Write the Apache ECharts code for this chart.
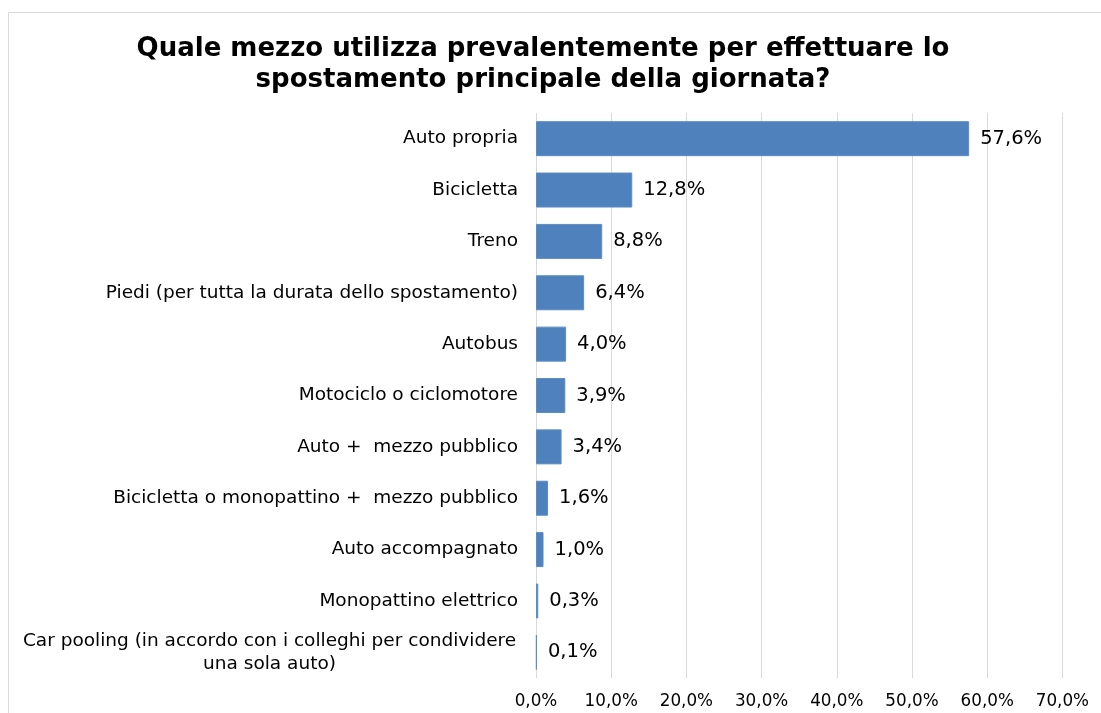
<!DOCTYPE html>
<html>
<head>
<meta charset="utf-8">
<script src="https://cdn.jsdelivr.net/npm/echarts@6/dist/echarts.min.js"></script>
<style>
  html, body { margin: 0; padding: 0; background: #ffffff; }
  #chart { width: 1101px; height: 713px; }
</style>
</head>
<body>
<div id="chart"></div>
<script>
// Survey answers: main means of transport for the day's main trip
const categories = [
  'Auto propria',
  'Bicicletta',
  'Treno',
  'Piedi (per tutta la durata dello spostamento)',
  'Autobus',
  'Motociclo o ciclomotore',
  'Auto +  mezzo pubblico',
  'Bicicletta o monopattino +  mezzo pubblico',
  'Auto accompagnato',
  'Monopattino elettrico',
  'Car pooling (in accordo con i colleghi per condividere\nuna sola auto)'
];
const shares = [57.6, 12.8, 8.8, 6.4, 4.0, 3.9, 3.4, 1.6, 1.0, 0.3, 0.1];
const axisTicks = [0, 10, 20, 30, 40, 50, 60, 70];

const pct = v => v.toFixed(1).replace('.', ',') + '%';

const chart = echarts.init(document.getElementById('chart'), null, { renderer: 'canvas' });

chart.setOption({
  backgroundColor: '#ffffff',
  animation: false,
  textStyle: { fontFamily: 'DejaVu Sans' },
  graphic: [{
    // chart frame: left and top edges only
    type: 'polyline',
    shape: { points: [[8.5, 760], [8.5, 12.5], [1160, 12.5]] },
    style: { fill: null, stroke: '#d9d9d9', lineWidth: 1 },
    silent: true,
    z: -1
  }],
  title: {
    text: 'Quale mezzo utilizza prevalentemente per effettuare lo\nspostamento principale della giornata?',
    left: 538,
    top: 29,
    textAlign: 'center',
    textStyle: {
      fontFamily: 'DejaVu Sans',
      fontWeight: 'bold',
      fontSize: 26,
      lineHeight: 31,
      color: '#000000'
    }
  },
  grid: { left: 536, right: 38.6, top: 113, bottom: 35, containLabel: false },
  xAxis: {
    type: 'value',
    min: axisTicks[0],
    max: axisTicks[axisTicks.length - 1],
    interval: axisTicks[1] - axisTicks[0],
    axisLine: { show: false },
    axisTick: { show: false },
    splitLine: { show: true, lineStyle: { color: '#d9d9d9', width: 1 } },
    axisLabel: {
      formatter: v => pct(v),
      fontSize: 16.8,
      color: '#000000',
      margin: 15
    }
  },
  yAxis: {
    type: 'category',
    data: categories,
    inverse: true,
    axisLine: { show: false },
    axisTick: { show: false },
    axisLabel: {
      fontSize: 18.5,
      color: '#000000',
      margin: 18,
      lineHeight: 23,
      formatter: v => {
        if (v.indexOf('\n') < 0) return v;
        return v.split('\n').map(s => '{w|' + s + '}').join('\n');
      },
      rich: {
        w: { width: 497, align: 'center', fontSize: 18.5, lineHeight: 23, color: '#000000' }
      }
    }
  },
  series: [{
    type: 'bar',
    data: shares,
    barWidth: 35,
    itemStyle: { color: '#4f81bd', borderColor: '#5b8cc6', borderWidth: 1 },
    label: {
      show: true,
      position: 'right',
      distance: 11,
      formatter: p => pct(p.value),
      fontSize: 19.5,
      color: '#000000'
    }
  }]
});
</script>
</body>
</html>
